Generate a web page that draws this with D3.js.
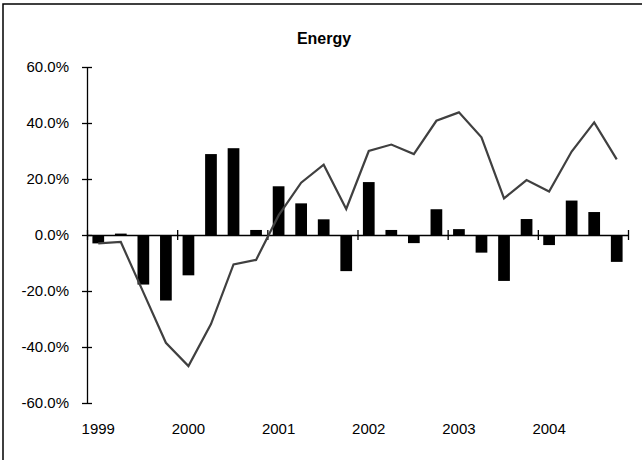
<!DOCTYPE html>
<html>
<head>
<meta charset="utf-8">
<script src="https://cdn.jsdelivr.net/npm/d3@7"></script>
<style>
  body { margin: 0; background: #fff; }
  svg text { font-family: "Liberation Sans", Arial, sans-serif; fill: #000; }
</style>
</head>
<body>
<div id="chart"></div>
<script>
// values in percent, one per quarter from 1999 Q1 to 2004 Q4
var years = ["1999", "2000", "2001", "2002", "2003", "2004"];
var barValues = [-3.0, 0.5, -17.7, -23.4, -14.4, 28.9, 31.0, 1.8, 17.4, 11.3, 5.6, -12.9,
                 18.9, 1.8, -2.9, 9.2, 2.1, -6.3, -16.4, 5.7, -3.6, 12.3, 8.2, -9.6];
var lineValues = [-3.0, -2.5, -20.5, -38.5, -46.8, -31.8, -10.5, -8.9, 7.0, 18.7, 25.1, 9.3,
                  30.0, 32.3, 28.9, 40.8, 43.8, 34.9, 13.1, 19.6, 15.5, 29.8, 40.2, 27.0];
var yTicks = [-60, -40, -20, 0, 20, 40, 60];

var svg_dx = 642,
  svg_dy = 460,
  plot = { left: 87, right: 628, top: 67, bottom: 403 };

var svg = d3.select("#chart")
  .append("svg")
  .attr("width", svg_dx)
  .attr("height", svg_dy);

// outer frame (right and bottom sides run off the page)
svg.append("rect")
  .attr("x", 3)
  .attr("y", 4)
  .attr("width", 700)
  .attr("height", 600)
  .attr("fill", "none")
  .attr("stroke", "#000")
  .attr("stroke-width", 1.5);

svg.append("text")
  .attr("x", 324)
  .attr("y", 44)
  .attr("text-anchor", "middle")
  .style("font-size", "16px")
  .style("font-weight", "bold")
  .text("Energy");

var n = barValues.length;

var xBand = d3.scaleBand()
  .domain(d3.range(n))
  .range([plot.left, plot.right])
  .paddingInner(0.48)
  .paddingOuter(0.24);

var xEdge = d3.scaleLinear()
  .domain([0, n])
  .range([plot.left, plot.right]);

var yScale = d3.scaleLinear()
  .domain([-60, 60])
  .range([plot.bottom, plot.top]);

var fmt = function(d) {
  return d3.format(".1f")(d).replace("\u2212", "-") + "%";
};

// bars
svg.append("g")
  .selectAll("rect")
  .data(barValues)
  .enter()
  .append("rect")
  .attr("x", function(d, i) { return xBand(i); })
  .attr("width", xBand.bandwidth())
  .attr("y", function(d) { return yScale(Math.max(0, d)); })
  .attr("height", function(d) { return Math.abs(yScale(d) - yScale(0)); })
  .attr("fill", "#000");

// y axis, cross ticks
var axis_y = d3.axisLeft(yScale)
  .tickValues(yTicks)
  .tickFormat(fmt)
  .tickSizeOuter(0)
  .tickPadding(12);

var gy = svg.append("g")
  .attr("transform", "translate(" + plot.left + ",0)")
  .call(axis_y);
gy.select(".domain").attr("stroke", "#000").attr("stroke-width", 1.3);
gy.selectAll(".tick line").attr("x1", -5).attr("x2", 5).attr("stroke", "#000").attr("stroke-width", 1.3);
gy.selectAll(".tick text")
  .style("font-size", "15px")
  .attr("font-family", null);

// x axis at zero, ticks at year boundaries
var axis_x = d3.axisBottom(xEdge)
  .tickValues(d3.range(0, n + 1, 4))
  .tickFormat("")
  .tickSizeOuter(0);

var gx = svg.append("g")
  .attr("transform", "translate(0," + yScale(0) + ")")
  .call(axis_x);
gx.select(".domain").attr("stroke", "#000").attr("stroke-width", 1.3);
gx.selectAll(".tick line").attr("y1", -5).attr("y2", 5).attr("stroke", "#000").attr("stroke-width", 1.3);

// year labels at the bottom, under the first quarter of each year
svg.append("g")
  .selectAll("text")
  .data(years)
  .enter()
  .append("text")
  .attr("x", function(d, i) { return xBand(i * 4) + xBand.bandwidth() / 2; })
  .attr("y", 434)
  .attr("text-anchor", "middle")
  .style("font-size", "15px")
  .text(function(d) { return d; });

// line
var line = d3.line()
  .x(function(d, i) { return xBand(i) + xBand.bandwidth() / 2; })
  .y(function(d) { return yScale(d); });

svg.append("path")
  .datum(lineValues)
  .attr("d", line)
  .attr("fill", "none")
  .attr("stroke", "#404040")
  .attr("stroke-width", 2.2)
  .attr("stroke-linejoin", "miter");
</script>
</body>
</html>
